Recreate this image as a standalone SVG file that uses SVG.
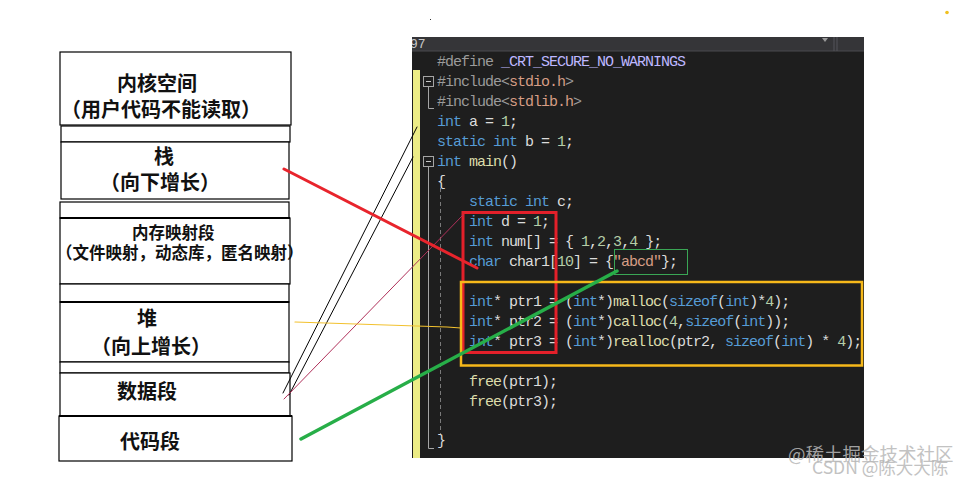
<svg xmlns="http://www.w3.org/2000/svg" width="966" height="485" viewBox="0 0 966 485">
<style>
.box{fill:#fff;stroke:#000;stroke-width:1.2}
.thick{fill:none;stroke:#000;stroke-width:2.2}
.cn{font-family:"Noto Sans CJK SC","Noto Sans CJK JP",sans-serif;font-weight:bold;fill:#111}
.big{font-size:20px}
.mid{font-size:16.5px}
.code{font-family:"Liberation Mono","DejaVu Sans Mono",monospace;font-size:15px;letter-spacing:-1px;fill:#dcdcdc}
.k{fill:#569cd6}
.n{fill:#b5cea8}
.s{fill:#d69d85}
.p{fill:#9b9b9b}
.m{fill:#bdb7ff}
.f{fill:#dcdcaa}
.fold{fill:none;stroke:#a5a5a5;stroke-width:1}
.wm{font-family:"Noto Sans CJK SC",sans-serif;fill:#b8b8b8;opacity:0.85}
</style>
<defs>
<clipPath id="panelClip"><rect x="412" y="37" width="452" height="421"/></clipPath>
</defs>

<!-- memory layout nodes -->
<g id="kernel">
<rect class="box" x="60" y="52" width="231" height="73"/>
<text class="cn big" x="117" y="91">内核空间</text>
<text class="cn big" x="61" y="117">（用户代码不能读取）</text>
</g>
<g id="gap1"><rect class="box" x="61" y="126" width="229" height="16"/></g>
<g id="stack">
<rect class="box" x="61" y="142" width="228" height="57"/>
<text class="cn big" x="154" y="164">栈</text>
<text class="cn big" x="100" y="190">（向下增长）</text>
</g>
<g id="gap2"><rect class="box" x="60" y="202" width="229" height="16"/></g>
<g id="mmap">
<rect class="box" x="60" y="218" width="230" height="66"/>
<line class="thick" x1="60" y1="218" x2="290" y2="218"/>
<text class="cn mid" x="132" y="239">内存映射段</text>
<text class="cn mid" x="56" y="259">（文件映射，动态库，匿名映射）</text>
</g>
<g id="gap3"><rect class="box" x="60" y="284" width="229" height="18"/></g>
<g id="heap">
<rect class="box" x="60" y="302" width="229" height="60"/>
<line class="thick" x1="60" y1="302" x2="289" y2="302"/>
<text class="cn big" x="137" y="326">堆</text>
<text class="cn big" x="91" y="354">（向上增长）</text>
</g>
<g id="gap4"><rect class="box" x="60" y="362" width="229" height="11"/></g>
<g id="data">
<rect class="box" x="60" y="373" width="230" height="43"/>
<text class="cn big" x="117" y="399">数据段</text>
</g>
<g id="codeseg">
<rect class="box" x="59" y="416" width="233" height="45"/>
<line class="thick" x1="59" y1="416" x2="292" y2="416"/>
<text class="cn big" x="120" y="449">代码段</text>
</g>

<!-- code editor panel -->
<g id="editor">
<rect x="412" y="37" width="452" height="421" fill="#1e1e1e"/>
<rect x="412" y="37" width="452" height="14" fill="#353538"/>
<line x1="412" y1="51" x2="864" y2="51" stroke="#4a4a4e" stroke-width="1"/>
<line x1="834" y1="37" x2="834" y2="51" stroke="#55555a" stroke-width="1"/>
<line x1="837" y1="37" x2="837" y2="51" stroke="#55555a" stroke-width="1"/>
<polygon points="822,38 828,38 825,42" fill="#9a9a9a"/>
<g clip-path="url(#panelClip)">
<text x="410" y="48" font-family="Liberation Mono,monospace" font-size="13px" fill="#c8c8c8">97</text>
</g>
<rect x="413" y="70" width="7" height="388" fill="#ecec86"/>
<!-- folding markers -->
<rect class="fold" x="423.5" y="76.5" width="10" height="10"/>
<line x1="426" y1="81.5" x2="431" y2="81.5" stroke="#c8c8c8"/>
<polyline class="fold" points="428.5,87 428.5,108.5 434,108.5"/>
<rect class="fold" x="423.5" y="156.5" width="10" height="10"/>
<line x1="426" y1="161.5" x2="431" y2="161.5" stroke="#c8c8c8"/>
<polyline class="fold" points="428.5,167 428.5,448.5 434,448.5"/>
<line x1="440.5" y1="188" x2="440.5" y2="434" stroke="#7a7a7a" stroke-width="1" stroke-dasharray="4,3"/>

<g class="code" xml:space="preserve">
<text x="437" y="66"><tspan class="p">#define</tspan> <tspan class="m">_CRT_SECURE_NO_WARNINGS</tspan></text>
<text x="437" y="86"><tspan class="p">#include&lt;</tspan><tspan class="s">stdio.h</tspan><tspan class="p">&gt;</tspan></text>
<text x="437" y="106"><tspan class="p">#include&lt;</tspan><tspan class="s">stdlib.h</tspan><tspan class="p">&gt;</tspan></text>
<text x="437" y="126"><tspan class="k">int</tspan> a = <tspan class="n">1</tspan>;</text>
<text x="437" y="146"><tspan class="k">static int</tspan> b = <tspan class="n">1</tspan>;</text>
<text x="437" y="166"><tspan class="k">int</tspan> <tspan class="f">main</tspan>()</text>
<text x="437" y="186">{</text>
<text x="469" y="206"><tspan class="k">static int</tspan> c;</text>
<text x="469" y="226"><tspan class="k">int</tspan> d = <tspan class="n">1</tspan>;</text>
<text x="469" y="246"><tspan class="k">int</tspan> num[] = { <tspan class="n">1</tspan>,<tspan class="n">2</tspan>,<tspan class="n">3</tspan>,<tspan class="n">4</tspan> };</text>
<text x="469" y="266"><tspan class="k">char</tspan> char1[<tspan class="n">10</tspan>] = {<tspan class="s">"abcd"</tspan>};</text>
<text x="469" y="306"><tspan class="k">int</tspan>* ptr1 = (<tspan class="k">int</tspan>*)<tspan class="f">malloc</tspan>(<tspan class="k">sizeof</tspan>(<tspan class="k">int</tspan>)*<tspan class="n">4</tspan>);</text>
<text x="469" y="326"><tspan class="k">int</tspan>* ptr2 = (<tspan class="k">int</tspan>*)<tspan class="f">calloc</tspan>(<tspan class="n">4</tspan>,<tspan class="k">sizeof</tspan>(<tspan class="k">int</tspan>));</text>
<text x="469" y="346"><tspan class="k">int</tspan>* ptr3 = (<tspan class="k">int</tspan>*)<tspan class="f">realloc</tspan>(ptr2, <tspan class="k">sizeof</tspan>(<tspan class="k">int</tspan>) * <tspan class="n">4</tspan>);</text>
<text x="469" y="386"><tspan class="f">free</tspan>(ptr1);</text>
<text x="469" y="406"><tspan class="f">free</tspan>(ptr3);</text>
<text x="437" y="445">}</text>
</g>
</g>

<!-- highlight boxes -->
<g id="highlights" fill="none">
<rect x="463" y="212.5" width="93" height="140" stroke="#e3202a" stroke-width="3"/>
<rect x="461" y="282" width="401" height="83.5" stroke="#f6b81a" stroke-width="2.5"/>
<rect x="614.5" y="249.5" width="73" height="25" stroke="#3aa655" stroke-width="1"/>
</g>

<!-- connectors -->
<g id="connectors" fill="none" stroke-linecap="round">
<line x1="283" y1="393" x2="417" y2="127" stroke="#000" stroke-width="1"/>
<line x1="289" y1="395" x2="413" y2="157" stroke="#000" stroke-width="1"/>
<line x1="284" y1="399" x2="463" y2="215" stroke="#b0305a" stroke-width="1"/>
<polyline points="295,322 447,327 461,328" stroke="#f2c12e" stroke-width="1.2"/>
<line x1="284" y1="169" x2="477" y2="268" stroke="#e8242c" stroke-width="3"/>
<line x1="301" y1="439" x2="617" y2="271" stroke="#27ae48" stroke-width="3.5"/>
</g>

<!-- stray marks -->
<rect x="430" y="19" width="1" height="1" fill="#333"/>
<circle cx="947" cy="12.5" r="1.8" fill="#f0c020"/>

<!-- watermarks -->
<text class="wm" x="788" y="461" font-size="18.5px">@稀土掘金技术社区</text>
<text class="wm" x="812" y="474" font-size="17.5px">CSDN @陈大大陈</text>
</svg>
